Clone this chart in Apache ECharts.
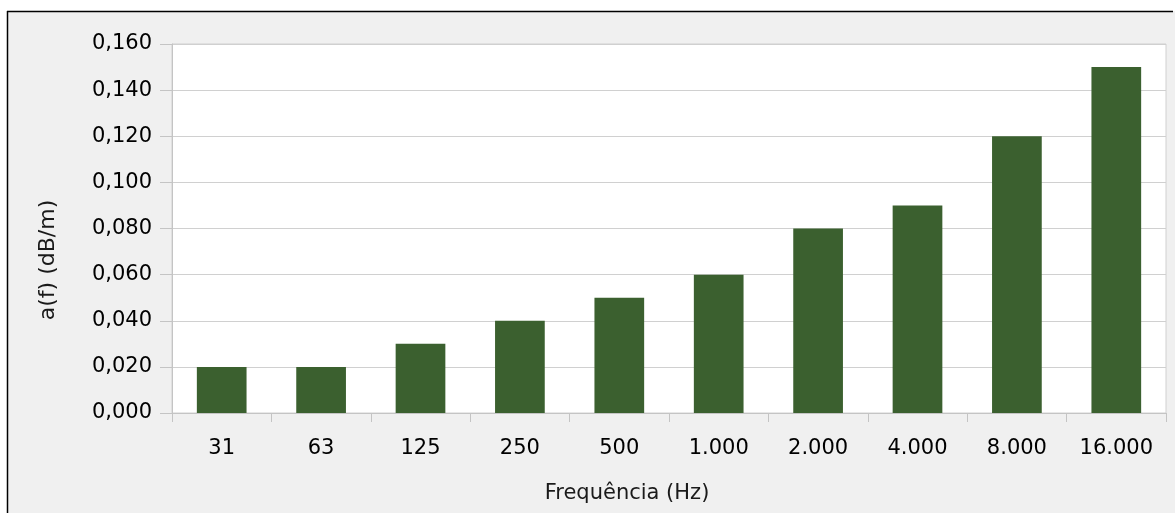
<!DOCTYPE html>
<html>
<head>
<meta charset="utf-8">
<script src="https://cdn.jsdelivr.net/npm/echarts@6/dist/echarts.min.js"></script>
<style>
  html, body { margin: 0; padding: 0; background: #ffffff; }
  #chart { width: 1175px; height: 513px; }
</style>
</head>
<body>
<div id="chart"></div>
<script>
// Frequency bands (Hz) and attenuation a(f) in dB/m
const categories = ['31', '63', '125', '250', '500', '1.000', '2.000', '4.000', '8.000', '16.000'];
const attenuation = [0.02, 0.02, 0.03, 0.04, 0.05, 0.06, 0.08, 0.09, 0.12, 0.15];
const xAxisName = 'Frequência (Hz)';
const yAxisName = 'a(f) (dB/m)';

const FONT = 'DejaVu Sans';
const chart = echarts.init(document.getElementById('chart'), null, { renderer: 'canvas' });

chart.setOption({
  backgroundColor: '#ffffff',
  animation: false,
  graphic: [
    { type: 'rect', z: -10, shape: { x: 7, y: 11, width: 1175, height: 520 },
      style: { fill: '#f0f0f0' } },
    { type: 'line', z: -9, shape: { x1: 7, y1: 11.5, x2: 1173, y2: 11.5 },
      style: { stroke: '#000000', lineWidth: 1.5 } },
    { type: 'line', z: -9, shape: { x1: 7.5, y1: 11, x2: 7.5, y2: 513 },
      style: { stroke: '#000000', lineWidth: 1.5 } }
  ],
  grid: {
    left: 172, right: 9, top: 44, bottom: 100,
    show: true, backgroundColor: '#ffffff', borderColor: '#d0d0d0', borderWidth: 1
  },
  xAxis: {
    type: 'category',
    data: categories,
    boundaryGap: true,
    name: xAxisName,
    nameLocation: 'middle',
    nameGap: 70,
    // name sits a little left of the plot centre
    nameTextStyle: { fontFamily: FONT, fontSize: 21, color: '#1a1a1a', padding: [0, 84, 0, 0] },
    axisLine: { lineStyle: { color: '#c4c4c4' } },
    axisTick: { show: true, length: 9, lineStyle: { color: '#c4c4c4' } },
    axisLabel: { fontFamily: FONT, fontSize: 21, color: '#000000', margin: 25 }
  },
  yAxis: {
    type: 'value',
    min: 0, max: 0.16, interval: 0.02,
    name: yAxisName,
    nameLocation: 'middle',
    nameGap: 113,
    nameRotate: 90,
    // name sits a little below the plot centre
    nameTextStyle: { fontFamily: FONT, fontSize: 22, color: '#1a1a1a', padding: [0, 63, 0, 0] },
    axisLine: { show: true, lineStyle: { color: '#c4c4c4' } },
    axisTick: { show: true, length: 12, lineStyle: { color: '#c4c4c4' } },
    axisLabel: {
      fontFamily: FONT, fontSize: 21, color: '#000000', margin: 20,
      formatter: v => v.toFixed(3).replace('.', ',')
    },
    splitLine: { lineStyle: { color: '#d0d0d0' } }
  },
  series: [{
    type: 'bar',
    data: attenuation,
    barWidth: '50%',
    itemStyle: { color: '#3b602f' }
  }]
});
</script>
</body>
</html>
